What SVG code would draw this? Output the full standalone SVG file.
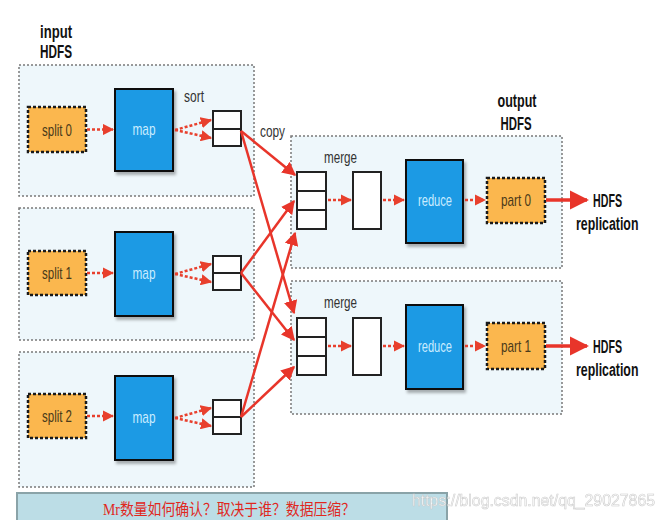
<svg xmlns="http://www.w3.org/2000/svg" width="665" height="520" viewBox="0 0 665 520">
<defs>
<style>
.grp{fill:#eef7fb;stroke:#7a7a7a;stroke-width:1.5;stroke-dasharray:2 2}
.split{fill:#fbb74e;stroke:#1a1a1a;stroke-width:2.5;stroke-dasharray:3 2}
.task{fill:#1f9ae4;stroke:#111;stroke-width:2;filter:url(#sh)}
.cell{fill:#fff;stroke:#222;stroke-width:2}
.lbl{font-family:"Liberation Sans",Arial,sans-serif;font-size:17px;fill:#333}
.tl{font-family:"Liberation Sans",Arial,sans-serif;font-size:17px;fill:#c9ecff;text-anchor:middle}
.st{font-family:"Liberation Sans",Arial,sans-serif;font-size:17px;fill:#4a3a1a;text-anchor:middle}
.hd{font-family:"Liberation Sans",Arial,sans-serif;font-size:19px;font-weight:bold;fill:#111}
.dot{fill:none;stroke:#e8402d;stroke-width:2.5;stroke-dasharray:3 2;marker-end:url(#ah)}
.cp{fill:none;stroke:#e8352a;stroke-width:2.5;marker-end:url(#ah2)}
.out{fill:none;stroke:#e8352a;stroke-width:3.5;marker-end:url(#ah2)}
</style>
<marker id="ah" viewBox="0 0 10 10" refX="9" refY="5" markerWidth="4.5" markerHeight="4.5" orient="auto" markerUnits="strokeWidth">
<path d="M0,0 L10,5 L0,10 z" fill="#e8402d"/>
</marker>
<marker id="ah2" viewBox="0 0 10 10" refX="9" refY="5" markerWidth="5.5" markerHeight="5.5" orient="auto" markerUnits="strokeWidth">
<path d="M0,0 L10,5 L0,10 z" fill="#e8352a"/>
</marker>
<filter id="sh" x="-10%" y="-10%" width="130%" height="130%">
<feDropShadow dx="2" dy="3" stdDeviation="1.5" flood-color="#000" flood-opacity="0.3"/>
</filter>
</defs>
<rect width="665" height="520" fill="#fff"/>

<g id="input-label">
<text class="hd" x="40" y="38" textLength="32" lengthAdjust="spacingAndGlyphs">input</text>
<text class="hd" x="40" y="58" textLength="32" lengthAdjust="spacingAndGlyphs">HDFS</text>
</g>
<g id="output-label">
<text class="hd" x="517" y="107" text-anchor="middle" textLength="39" lengthAdjust="spacingAndGlyphs">output</text>
<text class="hd" x="516" y="130" text-anchor="middle" textLength="31" lengthAdjust="spacingAndGlyphs">HDFS</text>
</g>

<g id="input-node-0">
<rect class="grp" x="19" y="65" width="235" height="131"/>
</g>
<g id="input-node-1">
<rect class="grp" x="19" y="208" width="235" height="132"/>
</g>
<g id="input-node-2">
<rect class="grp" x="19" y="352" width="235" height="135"/>
</g>
<g id="output-node-0">
<rect class="grp" x="291" y="136" width="271" height="132"/>
</g>
<g id="output-node-1">
<rect class="grp" x="291" y="281" width="271" height="133"/>
</g>

<g id="split0"><rect class="split" x="28" y="107" width="58" height="45"/><text class="st" x="57" y="136" textLength="30" lengthAdjust="spacingAndGlyphs">split 0</text></g>
<g id="split1"><rect class="split" x="28" y="251" width="58" height="44"/><text class="st" x="57" y="279" textLength="30" lengthAdjust="spacingAndGlyphs">split 1</text></g>
<g id="split2"><rect class="split" x="28" y="394" width="58" height="44"/><text class="st" x="57" y="422" textLength="30" lengthAdjust="spacingAndGlyphs">split 2</text></g>

<g id="map0"><rect class="task" x="115" y="89" width="58" height="82"/><text class="tl" x="144" y="135" textLength="23" lengthAdjust="spacingAndGlyphs">map</text></g>
<g id="map1"><rect class="task" x="115" y="232" width="58" height="84"/><text class="tl" x="144" y="279" textLength="23" lengthAdjust="spacingAndGlyphs">map</text></g>
<g id="map2"><rect class="task" x="115" y="376" width="58" height="84"/><text class="tl" x="144" y="423" textLength="23" lengthAdjust="spacingAndGlyphs">map</text></g>

<g id="sort0"><rect class="cell" x="213" y="111" width="28" height="35"/><line x1="213" y1="129" x2="241" y2="129" stroke="#222" stroke-width="2"/></g>
<g id="sort1"><rect class="cell" x="213" y="256" width="28" height="34"/><line x1="213" y1="273" x2="241" y2="273" stroke="#222" stroke-width="2"/></g>
<g id="sort2"><rect class="cell" x="213" y="400" width="28" height="34"/><line x1="213" y1="417" x2="241" y2="417" stroke="#222" stroke-width="2"/></g>
<g id="sort-label"><text class="lbl" x="184" y="102" textLength="20" lengthAdjust="spacingAndGlyphs">sort</text></g>
<g id="copy-label"><text class="lbl" x="260" y="137" textLength="25" lengthAdjust="spacingAndGlyphs">copy</text></g>

<g id="merge-in0"><rect class="cell" x="297" y="172" width="29" height="57"/><line x1="297" y1="191" x2="326" y2="191" stroke="#222" stroke-width="2"/><line x1="297" y1="210" x2="326" y2="210" stroke="#222" stroke-width="2"/></g>
<g id="merge-in1"><rect class="cell" x="297" y="318" width="29" height="57"/><line x1="297" y1="337" x2="326" y2="337" stroke="#222" stroke-width="2"/><line x1="297" y1="356" x2="326" y2="356" stroke="#222" stroke-width="2"/></g>
<g id="merge-label0"><text class="lbl" x="324" y="163" textLength="33" lengthAdjust="spacingAndGlyphs">merge</text></g>
<g id="merge-label1"><text class="lbl" x="324" y="308" textLength="33" lengthAdjust="spacingAndGlyphs">merge</text></g>
<g id="merged0"><rect class="cell" x="353" y="172" width="28" height="57"/></g>
<g id="merged1"><rect class="cell" x="353" y="318" width="28" height="57"/></g>

<g id="reduce0"><rect class="task" x="406" y="160" width="57" height="83"/><text class="tl" x="435" y="206" textLength="34" lengthAdjust="spacingAndGlyphs">reduce</text></g>
<g id="reduce1"><rect class="task" x="406" y="305" width="57" height="84"/><text class="tl" x="435" y="352" textLength="34" lengthAdjust="spacingAndGlyphs">reduce</text></g>

<g id="part0"><rect class="split" x="487" y="178" width="58" height="45"/><text class="st" x="516" y="206" textLength="30" lengthAdjust="spacingAndGlyphs">part 0</text></g>
<g id="part1"><rect class="split" x="487" y="323" width="58" height="46"/><text class="st" x="516" y="352" textLength="30" lengthAdjust="spacingAndGlyphs">part 1</text></g>

<g id="hdfs-rep0">
<text class="hd" x="622" y="207" text-anchor="end" textLength="29" lengthAdjust="spacingAndGlyphs">HDFS</text>
<g transform="translate(576,230) scale(0.65,1)"><text class="hd" x="0" y="0">replication</text></g>
</g>
<g id="hdfs-rep1">
<text class="hd" x="622" y="353" text-anchor="end" textLength="29" lengthAdjust="spacingAndGlyphs">HDFS</text>
<g transform="translate(576,376) scale(0.65,1)"><text class="hd" x="0" y="0">replication</text></g>
</g>

<g id="connectors">
<path class="dot" d="M87,129.5 L113,129.5"/>
<path class="dot" d="M87,273 L113,273"/>
<path class="dot" d="M87,416 L113,416"/>
<path class="dot" d="M175,130 L211,120"/>
<path class="dot" d="M175,130 L211,138"/>
<path class="dot" d="M175,274 L211,264"/>
<path class="dot" d="M175,274 L211,282"/>
<path class="dot" d="M175,418 L211,408"/>
<path class="dot" d="M175,418 L211,426"/>
<path class="cp" d="M241,131 L295,175"/>
<path class="cp" d="M241,131 L294,313"/>
<path class="cp" d="M241,273 L294,201"/>
<path class="cp" d="M241,273 L294,340"/>
<path class="cp" d="M241,417 L295,233"/>
<path class="cp" d="M241,417 L294,367"/>
<path class="dot" d="M328,200 L351,200"/>
<path class="dot" d="M383,200 L404,200"/>
<path class="dot" d="M465,200 L485,200"/>
<path class="dot" d="M328,346 L351,346"/>
<path class="dot" d="M383,346 L404,346"/>
<path class="dot" d="M465,346 L485,346"/>
<path class="out" d="M546,200 L587,200"/>
<path class="out" d="M546,346 L587,346"/>
</g>

<g id="banner">
<rect x="17" y="493" width="430" height="30" fill="#bcdde6" stroke="#8aa3a8" stroke-width="2"/>
<text x="103" y="515" font-family="'Liberation Serif','Noto Sans CJK SC',serif" font-size="16" fill="#e0281e" textLength="252" lengthAdjust="spacingAndGlyphs">Mr数量如何确认？取决于谁？数据压缩？</text>
</g>
<g id="watermark">
<text x="412" y="506" font-family="'Liberation Sans',Arial,sans-serif" font-size="16" fill="#ffffff" stroke="#c8c8c8" stroke-width="0.6" opacity="0.9" textLength="243" lengthAdjust="spacingAndGlyphs">https://blog.csdn.net/qq_29027865</text>
</g>
</svg>
